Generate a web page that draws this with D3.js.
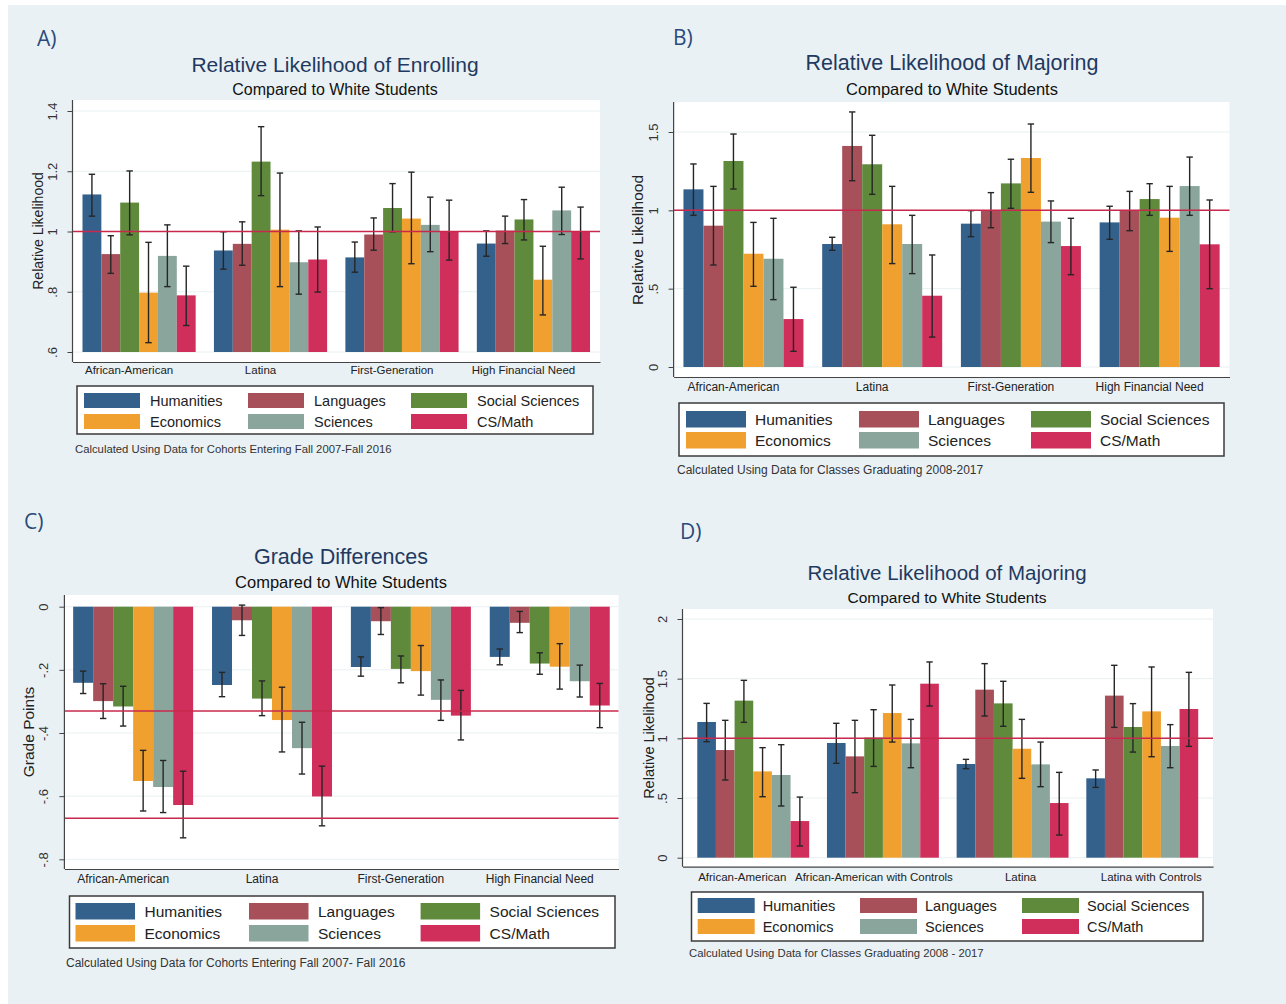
<!DOCTYPE html>
<html>
<head>
<meta charset="utf-8">
<script src="https://cdn.jsdelivr.net/npm/d3@7"></script>
<style>
  body { margin: 0; background: #fff; }
  text { font-family: "Liberation Sans", Arial, sans-serif; }
</style>
</head>
<body>
<div id="chart"></div>
<script>
/* Four Stata-style grouped bar charts with error bars */

const series = ["Humanities", "Languages", "Social Sciences", "Economics", "Sciences", "CS/Math"];
const colors = ["#34618c", "#a8505a", "#5f8a3c", "#efa02e", "#8aa69c", "#d02f5b"];

// A) enrolling
const enrollGroups = ["African-American", "Latina", "First-Generation", "High Financial Need"];
const enrollVal = [
  [1.123, 0.925, 1.096, 0.797, 0.919, 0.788],
  [0.937, 0.959, 1.232, 1.006, 0.898, 0.907],
  [0.914, 0.990, 1.078, 1.043, 1.022, 1.001],
  [0.960, 1.003, 1.040, 0.840, 1.070, 0.999]];
const enrollLo = [
  [1.051, 0.861, 0.989, 0.631, 0.817, 0.688],
  [0.875, 0.888, 1.119, 0.817, 0.792, 0.799],
  [0.865, 0.938, 0.999, 0.893, 0.933, 0.905],
  [0.918, 0.960, 0.972, 0.723, 0.990, 0.909]];
const enrollHi = [
  [1.190, 0.986, 1.201, 0.964, 1.022, 0.885],
  [0.999, 1.032, 1.348, 1.194, 1.002, 1.015],
  [0.965, 1.045, 1.159, 1.197, 1.114, 1.104],
  [1.002, 1.051, 1.106, 0.951, 1.147, 1.081]];
const enrollTicks = [0.6, 0.8, 1, 1.2, 1.4];
const enrollTickLabels = [".6", ".8", "1", "1.2", "1.4"];

// B) majoring
const majorGroups = ["African-American", "Latina", "First-Generation", "High Financial Need"];
const majorVal = [
  [1.134, 0.902, 1.315, 0.723, 0.691, 0.306],
  [0.785, 1.411, 1.294, 0.911, 0.785, 0.455],
  [0.915, 1.002, 1.172, 1.334, 0.928, 0.772],
  [0.923, 1.002, 1.072, 0.953, 1.155, 0.783]];
const majorLo = [
  [0.968, 0.651, 1.136, 0.515, 0.430, 0.100],
  [0.745, 1.189, 1.102, 0.660, 0.596, 0.191],
  [0.832, 0.889, 1.013, 1.115, 0.794, 0.589],
  [0.815, 0.870, 0.968, 0.738, 0.968, 0.500]];
const majorHi = [
  [1.296, 1.153, 1.487, 0.923, 0.949, 0.509],
  [0.828, 1.628, 1.479, 1.153, 0.968, 0.715],
  [0.998, 1.113, 1.326, 1.551, 1.060, 0.949],
  [1.026, 1.121, 1.170, 1.153, 1.340, 1.066]];
const majorTicks = [0, 0.5, 1, 1.5];
const majorTickLabels = ["0", ".5", "1", "1.5"];

// C) grades
const gradeGroups = ["African-American", "Latina", "First-Generation", "High Financial Need"];
const gradeVal = [
  [-0.241, -0.299, -0.316, -0.552, -0.571, -0.628],
  [-0.248, -0.043, -0.291, -0.359, -0.448, -0.601],
  [-0.191, -0.046, -0.197, -0.204, -0.295, -0.345],
  [-0.159, -0.051, -0.180, -0.190, -0.236, -0.313]];
const gradeLo = [
  [-0.275, -0.354, -0.378, -0.647, -0.652, -0.732],
  [-0.285, -0.091, -0.345, -0.460, -0.530, -0.694],
  [-0.220, -0.088, -0.241, -0.280, -0.360, -0.422],
  [-0.184, -0.082, -0.214, -0.261, -0.286, -0.383]];
const gradeHi = [
  [-0.204, -0.244, -0.252, -0.455, -0.487, -0.521],
  [-0.208, 0.005, -0.235, -0.255, -0.366, -0.505],
  [-0.159, -0.003, -0.156, -0.123, -0.232, -0.265],
  [-0.134, -0.015, -0.146, -0.117, -0.185, -0.243]];
const gradeTicks = [0, -0.2, -0.4, -0.6, -0.8];
const gradeTickLabels = ["0", "-.2", "-.4", "-.6", "-.8"];
const gradeRefs = [-0.33, -0.67];

// D) majoring with controls
const controlGroups = ["African-American", "African-American with Controls", "Latina", "Latina with Controls"];
const controlVal = [
  [1.137, 0.902, 1.316, 0.723, 0.693, 0.307],
  [0.961, 0.849, 1.006, 1.212, 0.958, 1.458],
  [0.785, 1.408, 1.293, 0.913, 0.782, 0.458],
  [0.665, 1.358, 1.095, 1.226, 0.936, 1.246]];
const controlLo = [
  [0.972, 0.651, 1.134, 0.511, 0.433, 0.098],
  [0.791, 0.545, 0.765, 0.969, 0.754, 1.271],
  [0.746, 1.187, 1.101, 0.665, 0.595, 0.190],
  [0.589, 1.092, 0.885, 0.846, 0.754, 0.933]];
const controlHi = [
  [1.293, 1.151, 1.486, 0.922, 0.947, 0.508],
  [1.126, 1.151, 1.240, 1.447, 1.159, 1.640],
  [0.824, 1.626, 1.478, 1.159, 0.969, 0.715],
  [0.735, 1.612, 1.291, 1.598, 1.115, 1.553]];
const controlTicks = [0, 0.5, 1, 1.5, 2];
const controlTickLabels = ["0", ".5", "1", "1.5", "2"];

const width = 1286, height = 1004;

const svg = d3.select("#chart").append("svg")
    .attr("width", width)
    .attr("height", height);

svg.append("rect")
    .attr("x", 8).attr("y", 5)
    .attr("width", width - 8).attr("height", height - 5)
    .attr("fill", "#eaf1f5");

// layout for each panel
const panels = [
  { tag: "A)", tagX: 37, tagY: 46,
    title: "Relative Likelihood of Enrolling", cx: 335, titleY: 72, subY: 95, titleSize: 21, subSize: 16,
    groups: enrollGroups, val: enrollVal, lo: enrollLo, hi: enrollHi,
    ticks: enrollTicks, tickLabels: enrollTickLabels, refs: [1], base: 0.6,
    yRange: [352, 111], left: 72.5, right: 600, top: 100, bottom: 362,
    pi: 0.139, po: 0.076, labelShift: [-10, -10, -10, -10], labelY: 374, catSize: 11.5,
    yTitle: "Relative Likelihood", yTitleX: 38, yTitleY: 231, yTitleSize: 14,
    legend: { x: 77, y: 386, w: 516, h: 48, cols: [84, 248, 411], rows: [393, 414], sw: 56, sh: 15, tx: 66, size: 14.5 },
    note: "Calculated Using Data for Cohorts Entering Fall 2007-Fall 2016", noteX: 75, noteY: 453, noteSize: 11.3 },
  { tag: "B)", tagX: 673, tagY: 45,
    title: "Relative Likelihood of Majoring", cx: 952, titleY: 70, subY: 95, titleSize: 21.5, subSize: 16.5,
    groups: majorGroups, val: majorVal, lo: majorLo, hi: majorHi,
    ticks: majorTicks, tickLabels: majorTickLabels, refs: [1], base: 0,
    yRange: [367, 132], left: 673.6, right: 1229.5, top: 102, bottom: 377,
    pi: 0.135, po: 0.071, labelShift: [-10, -10, -10, -10], labelY: 391, catSize: 12,
    yTitle: "Relative Likelihood", yTitleX: 638, yTitleY: 240, yTitleSize: 15.5,
    legend: { x: 679, y: 403, w: 545, h: 53, cols: [686, 859, 1031], rows: [411, 432], sw: 60, sh: 16.5, tx: 69, size: 15.5 },
    note: "Calculated Using Data for Classes Graduating 2008-2017", noteX: 677, noteY: 474, noteSize: 12 },
  { tag: "C)", tagX: 24, tagY: 529,
    title: "Grade Differences", cx: 341, titleY: 564, subY: 588, titleSize: 21.5, subSize: 16.5,
    groups: gradeGroups, val: gradeVal, lo: gradeLo, hi: gradeHi,
    ticks: gradeTicks, tickLabels: gradeTickLabels, refs: gradeRefs, base: 0,
    yRange: [859.3, 606.7], left: 64.4, right: 618.5, top: 595, bottom: 869,
    pi: 0.136, po: 0.063, labelShift: [-10, -10, -10, -10], labelY: 883, catSize: 12,
    yTitle: "Grade Points", yTitleX: 29, yTitleY: 732, yTitleSize: 15.5,
    legend: { x: 69.5, y: 896, w: 545.5, h: 52, cols: [75.5, 249, 420.6], rows: [903, 925], sw: 59.5, sh: 16.5, tx: 69, size: 15.5 },
    note: "Calculated Using Data for Cohorts Entering Fall 2007- Fall 2016", noteX: 66, noteY: 967, noteSize: 12 },
  { tag: "D)", tagX: 680, tagY: 539,
    title: "Relative Likelihood of Majoring", cx: 947, titleY: 580, subY: 603, titleSize: 20.5, subSize: 15.5,
    groups: controlGroups, val: controlVal, lo: controlLo, hi: controlHi,
    ticks: controlTicks, tickLabels: controlTickLabels, refs: [1], base: 0,
    yRange: [857.7, 619], left: 682.5, right: 1213, top: 609, bottom: 866.7,
    pi: 0.137, po: 0.114, labelShift: [-11, -9, 8, 9], labelY: 881, catSize: 11.5,
    yTitle: "Relative Likelihood", yTitleX: 649, yTitleY: 738, yTitleSize: 14.5,
    legend: { x: 691.5, y: 892, w: 511.5, h: 49, cols: [697.7, 860, 1022], rows: [898, 919], sw: 57, sh: 15, tx: 65, size: 14.5 },
    note: "Calculated Using Data for Classes Graduating 2008 - 2017", noteX: 689, noteY: 957, noteSize: 11.3 }
];

panels.forEach(p => drawPanel(p));

function drawPanel(p) {
    const g = svg.append("g");

    const x = d3.scaleBand()
        .domain(p.groups)
        .range([p.left, p.right])
        .paddingInner(p.pi)
        .paddingOuter(p.po);

    const xs = d3.scaleBand()
        .domain(series)
        .range([0, x.bandwidth()]);

    const y = d3.scaleLinear()
        .domain(d3.extent(p.ticks))
        .range(p.yRange);

    // panel tag and titles
    g.append("text")
        .attr("x", p.tagX).attr("y", p.tagY)
        .style("font-family", "'Open Sans', sans-serif")
        .style("font-size", "21px")
        .attr("fill", "#2b4a7a")
        .text(p.tag);

    g.append("text")
        .attr("x", p.cx).attr("y", p.titleY)
        .attr("text-anchor", "middle")
        .style("font-size", p.titleSize + "px")
        .attr("fill", "#1f3a60")
        .text(p.title);

    g.append("text")
        .attr("x", p.cx).attr("y", p.subY)
        .attr("text-anchor", "middle")
        .style("font-size", p.subSize + "px")
        .attr("fill", "#111")
        .text("Compared to White Students");

    // plot region
    g.append("rect")
        .attr("x", p.left).attr("y", p.top)
        .attr("width", p.right - p.left).attr("height", p.bottom - p.top)
        .attr("fill", "#fff");

    g.append("g")
        .selectAll("line")
        .data(p.ticks)
        .join("line")
        .attr("x1", p.left).attr("x2", p.right)
        .attr("y1", d => y(d)).attr("y2", d => y(d))
        .attr("stroke", "#e9f0f2")
        .attr("stroke-width", 1);

    // bars
    const group = g.selectAll(".grp")
        .data(p.groups)
        .join("g")
        .attr("class", "grp")
        .attr("transform", d => `translate(${x(d)},0)`);

    group.selectAll("rect")
        .data((d, i) => series.map((s, j) => ({ s, j, v: p.val[i][j] })))
        .join("rect")
        .attr("x", d => xs(d.s))
        .attr("width", xs.bandwidth())
        .attr("y", d => Math.min(y(d.v), y(p.base)))
        .attr("height", d => Math.abs(y(d.v) - y(p.base)))
        .attr("fill", d => colors[d.j]);

    // reference lines
    g.append("g")
        .selectAll("line")
        .data(p.refs)
        .join("line")
        .attr("x1", p.left).attr("x2", p.right)
        .attr("y1", d => y(d)).attr("y2", d => y(d))
        .attr("stroke", "#c8284c")
        .attr("stroke-width", 1.5);

    // error bars
    const err = group.selectAll(".err")
        .data((d, i) => series.map((s, j) => ({ s, lo: p.lo[i][j], hi: p.hi[i][j] })))
        .join("g")
        .attr("class", "err")
        .attr("transform", d => `translate(${xs(d.s) + xs.bandwidth() / 2},0)`)
        .attr("stroke", "#262626")
        .attr("stroke-width", 1.4);

    err.append("line")
        .attr("y1", d => y(d.lo)).attr("y2", d => y(d.hi));
    err.append("line")
        .attr("x1", -3.2).attr("x2", 3.2)
        .attr("y1", d => y(d.lo)).attr("y2", d => y(d.lo));
    err.append("line")
        .attr("x1", -3.2).attr("x2", 3.2)
        .attr("y1", d => y(d.hi)).attr("y2", d => y(d.hi));

    // y axis
    const yAxis = g.append("g")
        .attr("transform", `translate(${p.left},0)`)
        .call(d3.axisLeft(y)
            .tickValues(p.ticks)
            .tickFormat((d, i) => p.tickLabels[i])
            .tickSize(5)
            .tickPadding(6));
    yAxis.select(".domain").remove();
    yAxis.selectAll(".tick line").attr("stroke", "#444");
    yAxis.selectAll(".tick text")
        .attr("transform", "rotate(-90)")
        .attr("x", 0).attr("y", -16)
        .attr("dy", "0")
        .attr("text-anchor", "middle")
        .style("font-family", "'Liberation Sans', Arial, sans-serif")
        .style("font-size", "13px")
        .attr("fill", "#333");
    g.append("line")
        .attr("x1", p.left).attr("x2", p.left)
        .attr("y1", p.top).attr("y2", p.bottom)
        .attr("stroke", "#444").attr("stroke-width", 1.2);

    // x axis
    const xAxis = g.append("g")
        .attr("transform", `translate(0,${p.bottom})`)
        .call(d3.axisBottom(x).tickSize(0));
    xAxis.select(".domain")
        .attr("stroke", "#444").attr("stroke-width", 1.2);
    xAxis.selectAll(".tick text")
        .attr("x", (d, i) => p.labelShift[i])
        .attr("y", p.labelY - p.bottom)
        .attr("dy", "0")
        .style("font-family", "'Liberation Sans', Arial, sans-serif")
        .style("font-size", p.catSize + "px")
        .attr("fill", "#222");

    g.append("text")
        .attr("transform", `translate(${p.yTitleX},${p.yTitleY}) rotate(-90)`)
        .attr("text-anchor", "middle")
        .attr("dy", "0.35em")
        .style("font-size", p.yTitleSize + "px")
        .attr("fill", "#222")
        .text(p.yTitle);

    // legend
    const L = p.legend;
    g.append("rect")
        .attr("x", L.x).attr("y", L.y)
        .attr("width", L.w).attr("height", L.h)
        .attr("fill", "#fff")
        .attr("stroke", "#3a3a3a")
        .attr("stroke-width", 1.5);

    const item = g.selectAll(".leg")
        .data(series)
        .join("g")
        .attr("class", "leg")
        .attr("transform", (d, i) => `translate(${L.cols[i % 3]},${L.rows[Math.floor(i / 3)]})`);

    item.append("rect")
        .attr("width", L.sw).attr("height", L.sh)
        .attr("fill", (d, i) => colors[i]);

    item.append("text")
        .attr("x", L.tx)
        .attr("y", L.sh / 2)
        .attr("dy", "0.35em")
        .style("font-size", L.size + "px")
        .attr("fill", "#222")
        .text(d => d);

    g.append("text")
        .attr("x", p.noteX).attr("y", p.noteY)
        .style("font-size", p.noteSize + "px")
        .attr("fill", "#333")
        .text(p.note);
}
</script>
</body>
</html>
